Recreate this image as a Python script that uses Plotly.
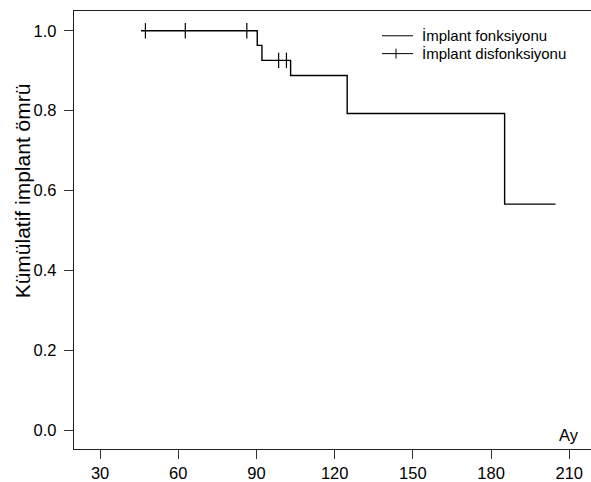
import plotly.graph_objects as go

# Kaplan-Meier step data (months, cumulative survival)
event_times = [45.7, 90.3, 92.1, 103.1, 124.8, 185.2, 204.7]
survival = [1.0, 0.9635, 0.926, 0.888, 0.793, 0.566, 0.566]

# censored observations
censor_times = [47.4, 62.7, 86.3, 98.5, 101.5]
censor_surv = [1.0, 1.0, 1.0, 0.926, 0.926]

x_ticks = [30, 60, 90, 120, 150, 180, 210]
y_ticks = [0.0, 0.2, 0.4, 0.6, 0.8, 1.0]

legend_labels = ["İmplant fonksiyonu", "İmplant disfonksiyonu"]
y_title = "Kümülatif implant ömrü"
x_title = "Ay"

FONT = "Liberation Sans, Arial, Helvetica, sans-serif"
FS = 16.5

W, H = 591, 482
L, R, T, B = 74, 0, 11, 29
pw, ph = W - L - R, H - T - B

def px2paper(px, py):
    return (px - L) / pw, (H - B - py) / ph

fig = go.Figure()
fig.add_trace(go.Scatter(x=event_times, y=survival, mode="lines",
                         line=dict(color="black", width=1.4, shape="hv"),
                         showlegend=False, hoverinfo="skip"))
fig.add_trace(go.Scatter(x=censor_times, y=censor_surv, mode="markers",
                         marker=dict(symbol="line-ns", size=11,
                                     line=dict(color="black", width=1.2)),
                         showlegend=False, hoverinfo="skip"))

shapes = []
annotations = []
# manual legend
rows_py = [36, 54]
for i, lab in enumerate(legend_labels):
    x0, y0 = px2paper(382, rows_py[i])
    x1, _ = px2paper(413, rows_py[i])
    shapes.append(dict(type="line", xref="paper", yref="paper", x0=x0, x1=x1, y0=y0, y1=y0,
                       line=dict(color="black", width=1)))
    tx, ty = px2paper(420, rows_py[i])
    annotations.append(dict(text=lab, xref="paper", yref="paper", x=tx, y=ty,
                            xanchor="left", yanchor="middle", showarrow=False,
                            font=dict(family=FONT, size=15, color="black")))
cx, cy0 = px2paper(396, rows_py[1] - 5)
_, cy1 = px2paper(396, rows_py[1] + 5)
shapes.append(dict(type="line", xref="paper", yref="paper", x0=cx, x1=cx, y0=cy0, y1=cy1,
                   line=dict(color="black", width=1)))

# y title
tx, ty = px2paper(22, 193)
annotations.append(dict(text=y_title, xref="paper", yref="paper", x=tx, y=ty,
                        xanchor="center", yanchor="middle", textangle=-90, showarrow=False,
                        font=dict(family=FONT, size=21, color="black")))
# x title
annotations.append(dict(text=x_title, xref="x", yref="y", x=210, y=-0.012,
                        xanchor="center", yanchor="middle", showarrow=False,
                        font=dict(family=FONT, size=FS, color="black")))

fig.update_layout(
    width=W, height=H,
    margin=dict(l=L, r=R, t=T, b=B, pad=0),
    paper_bgcolor="white", plot_bgcolor="white",
    font=dict(family=FONT, size=FS, color="black"),
    shapes=shapes, annotations=annotations,
    showlegend=False,
    xaxis=dict(range=[20, 30 + (W - 100) / 2.607], tickvals=x_ticks,
               ticks="outside", ticklen=9, tickwidth=1, tickcolor="#333",
               showline=True, linecolor="#222", linewidth=1.3, mirror=True,
               showgrid=False, zeroline=False),
    yaxis=dict(range=[-0.047, 1.0496], tickvals=y_ticks, tickformat=".1f",
               ticks="outside", ticklen=9, tickwidth=1, tickcolor="#333",
               ticklabelstandoff=4,
               showline=True, linecolor="#222", linewidth=1.3, mirror=False,
               showgrid=False, zeroline=False),
)
fig.write_html("out.html", config={"displayModeBar": False},
               post_script="document.body.style.margin='0px';document.body.style.padding='0px';")
